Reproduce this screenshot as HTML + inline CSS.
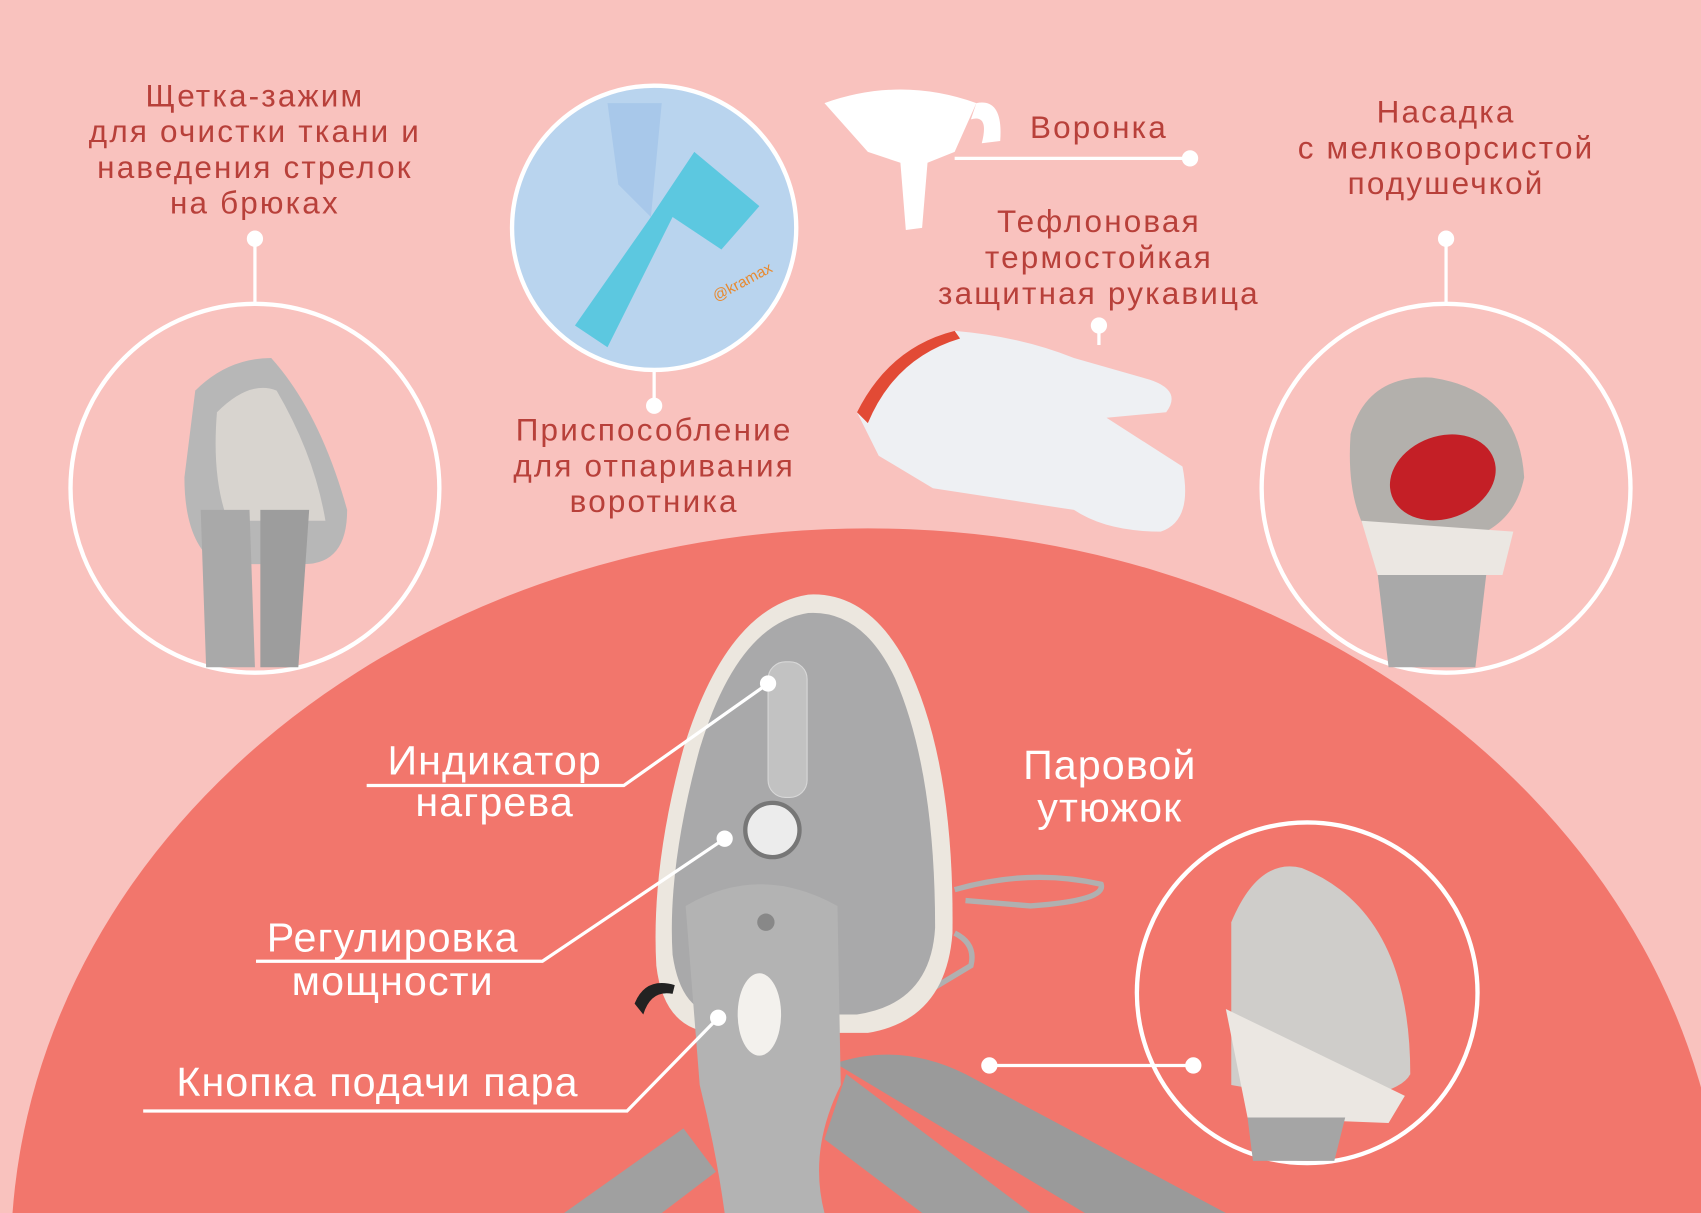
<!DOCTYPE html>
<html><head><meta charset="utf-8"><style>
html,body{margin:0;padding:0;background:#f9c2be;overflow:hidden;width:1701px;height:1213px}
svg{display:block}
text{font-family:"Liberation Sans","DejaVu Sans",sans-serif}
</style></head><body>
<svg width="1701" height="1213" viewBox="0 0 1568 1118" preserveAspectRatio="none" xmlns="http://www.w3.org/2000/svg">
<rect width="1568" height="1118" fill="#f9c2be"/>
<ellipse cx="800" cy="1160" rx="790" ry="673" fill="#f2766c"/>

<g fill="none" stroke="#fff" stroke-width="4">
<circle cx="235" cy="450" r="170"/>
<circle cx="603" cy="210" r="131" fill="#b9d4ee"/>
<circle cx="1333" cy="450" r="170"/>
<circle cx="1205" cy="915" r="157"/>
</g>
<g stroke="#fff" stroke-width="3" fill="#fff">
<line x1="235" y1="220" x2="235" y2="280"/><circle cx="235" cy="220" r="6"/>
<line x1="603" y1="341" x2="603" y2="374"/><circle cx="603" cy="374" r="6"/>
<line x1="1333" y1="220" x2="1333" y2="280"/><circle cx="1333" cy="220" r="6"/>
<line x1="880" y1="146" x2="1097" y2="146"/><circle cx="1097" cy="146" r="6"/>
<line x1="1013" y1="300" x2="1013" y2="318"/><circle cx="1013" cy="300" r="6"/>
<line x1="912" y1="982" x2="1100" y2="982"/><circle cx="912" cy="982" r="6"/><circle cx="1100" cy="982" r="6"/>
</g>

<path d="M530 300 L600 200 L640 140 L700 190 L665 230 L620 200 L560 320 Z" fill="#5cc8e0"/>
<path d="M560 95 L610 95 L600 200 L570 170Z" fill="#a8c8ea"/>
<text x="660" y="278" font-size="14" fill="#e88a30" transform="rotate(-28 660 278)">@kramax</text>

<path d="M760 95 Q830 70 900 95 L880 140 L855 150 L850 210 L835 212 L830 150 L800 140 Z" fill="#fff"/>
<path d="M900 95 Q925 90 922 130 L905 132 Q912 105 895 110Z" fill="#fff"/>
<path d="M790 380 Q820 320 880 305 Q940 310 990 330 L1060 350 Q1090 360 1075 380 L1020 385 L1090 430 Q1100 480 1070 490 Q1020 490 990 470 L860 450 L810 420 Z" fill="#eef0f3"/>
<path d="M790 380 Q820 320 880 305 L885 312 Q825 330 800 390 Z" fill="#e24a35"/>

<path d="M180 360 Q210 330 250 330 Q295 380 320 470 Q320 520 280 520 L200 520 Q170 500 170 440 Z" fill="#b7b7b7"/>
<path d="M200 380 Q230 350 255 360 Q290 420 300 480 L210 480 Q195 440 200 380Z" fill="#d8d4cf"/>
<path d="M185 470 L230 470 L235 615 L190 615 Z" fill="#a9a9a9"/>
<path d="M240 470 L285 470 L275 615 L240 615 Z" fill="#9d9d9d"/>
<path d="M1245 400 Q1260 345 1320 348 Q1400 360 1405 440 Q1395 490 1340 500 L1270 505 Q1240 470 1245 400Z" fill="#b3b0ac"/>
<ellipse cx="1330" cy="440" rx="50" ry="38" fill="#c41f26" transform="rotate(-20 1330 440)"/>
<path d="M1255 480 L1395 490 L1385 530 L1270 530 Z" fill="#ebe7e2"/>
<path d="M1270 530 L1370 530 L1360 615 L1280 615 Z" fill="#a9a9a9"/>
<path d="M1135 850 Q1160 790 1200 800 Q1300 840 1300 990 Q1290 1010 1220 1015 L1135 1000 Z" fill="#cfcdca"/>
<path d="M1130 930 L1295 1010 L1280 1035 L1150 1030 Z" fill="#ebe7e2"/>
<path d="M1150 1030 L1240 1030 L1230 1070 L1155 1070 Z" fill="#a5a5a5"/>

<!-- tripod -->
<path d="M780 990 L950 1118 L850 1118 L760 1050 Z" fill="#9e9e9e"/>
<path d="M770 980 Q830 960 890 990 L1130 1118 L1000 1118 Z" fill="#9a9a9a"/>
<path d="M630 1040 L520 1118 L610 1118 L660 1080 Z" fill="#a0a0a0"/>
<path d="M880 820 Q950 800 1015 815 Q1020 830 950 835 L890 830" fill="none" stroke="#b0b0b0" stroke-width="5"/>
<path d="M880 860 Q900 870 895 890 L820 935" fill="none" stroke="#b0b0b0" stroke-width="5"/>
<!-- iron -->
<path d="M745 548 Q670 560 630 690 Q600 800 605 890 Q612 950 660 952 L800 952 Q872 940 878 860 Q880 700 835 610 Q800 545 745 548Z" fill="#ece7df"/>
<path d="M745 565 Q680 575 645 690 Q615 800 620 880 Q628 935 665 935 L790 935 Q858 925 862 855 Q862 710 825 625 Q795 562 745 565Z" fill="#a9a9aa"/>
<rect x="708" y="610" width="36" height="125" rx="16" fill="#c2c2c2" stroke="#d8d8d8"/>
<circle cx="712" cy="765" r="25" fill="#ececec" stroke="#777" stroke-width="4"/>
<path d="M632 835 Q700 795 772 835 L775 1000 Q745 1060 760 1118 L668 1118 Q660 1060 645 1000 Z" fill="#b3b3b3"/>
<ellipse cx="700" cy="935" rx="20" ry="38" fill="#f3f1ed"/>
<circle cx="706" cy="850" r="8" fill="#888"/>
<path d="M585 925 Q595 900 622 908 L620 916 Q600 912 593 935Z" fill="#222"/>

<g stroke="#fff" stroke-width="3" fill="#fff">
<polyline fill="none" points="338,724 575,724 708,630"/><circle cx="708" cy="630" r="6"/>
<polyline fill="none" points="236,886 500,886 668,773"/><circle cx="668" cy="773" r="6"/>
<polyline fill="none" points="132,1024 578,1024 662,938"/><circle cx="662" cy="938" r="6"/>
</g>

<g fill="#b8403a" font-size="29" text-anchor="middle" letter-spacing="2">
<text x="235" y="98">Щетка-зажим</text>
<text x="235" y="131">для очистки ткани и</text>
<text x="235" y="164">наведения стрелок</text>
<text x="235" y="197">на брюках</text>
<text x="603" y="406">Приспособление</text>
<text x="603" y="439">для отпаривания</text>
<text x="603" y="472">воротника</text>
<text x="1013" y="127">Воронка</text>
<text x="1013" y="214">Тефлоновая</text>
<text x="1013" y="247">термостойкая</text>
<text x="1013" y="280">защитная рукавица</text>
<text x="1333" y="113">Насадка</text>
<text x="1333" y="146">с мелковорсистой</text>
<text x="1333" y="179">подушечкой</text>
</g>
<g fill="#fff" font-size="38" text-anchor="middle" letter-spacing="1">
<text x="456" y="714">Индикатор</text>
<text x="456" y="752">нагрева</text>
<text x="362" y="877">Регулировка</text>
<text x="362" y="917">мощности</text>
<text x="348" y="1010">Кнопка подачи пара</text>
<text x="1023" y="718">Паровой</text>
<text x="1023" y="757">утюжок</text>
</g>
</svg>
</body></html>
